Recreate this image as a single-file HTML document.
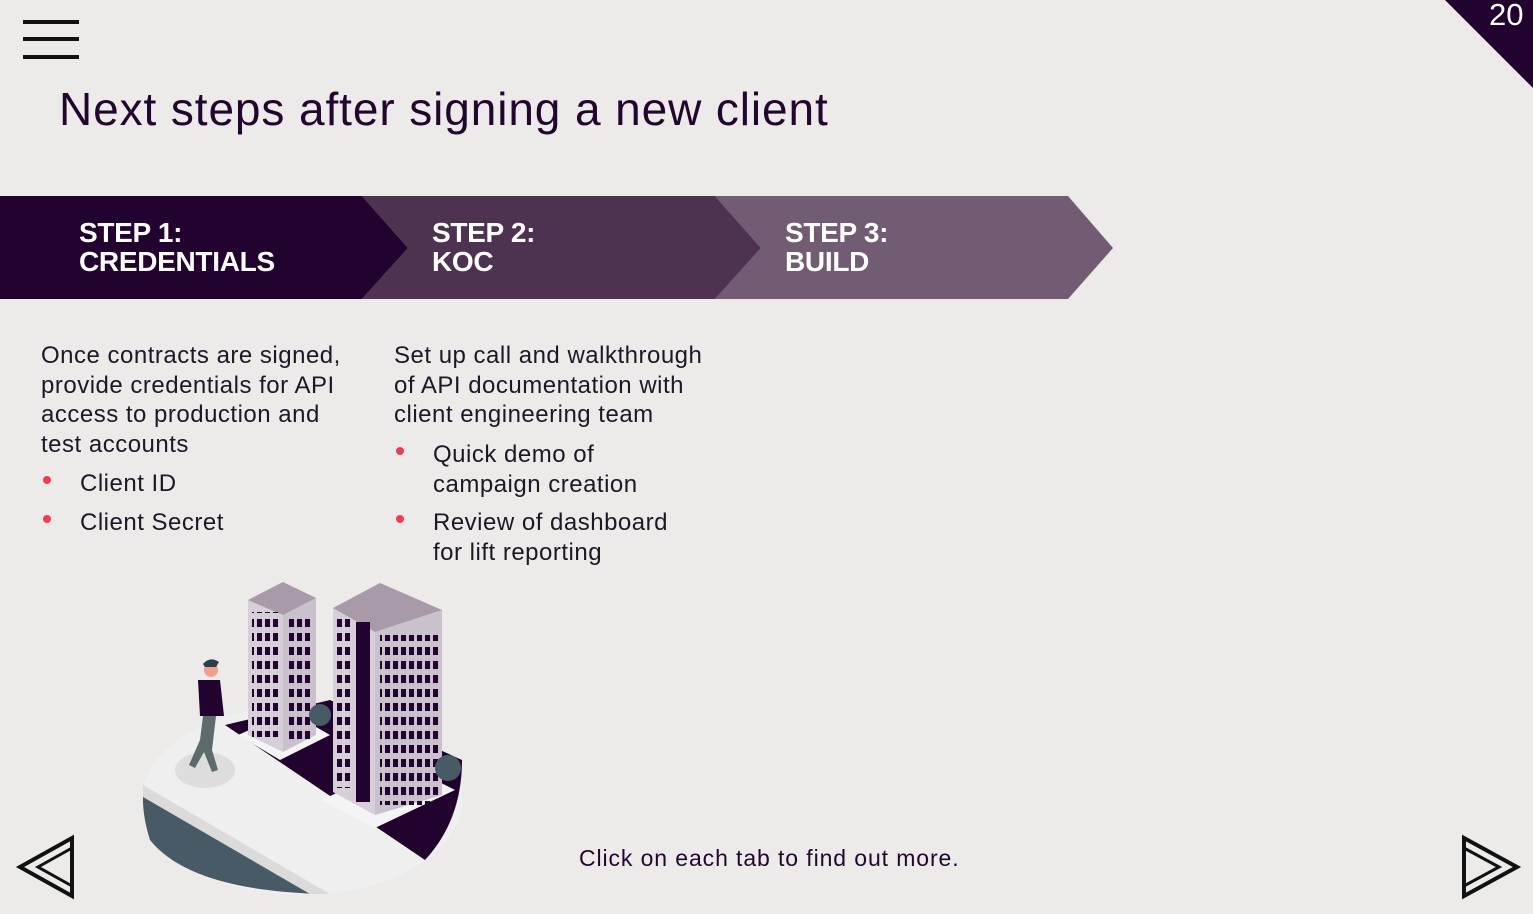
<!DOCTYPE html>
<html><head><meta charset="utf-8"><style>
body{margin:0;width:1533px;height:914px;background:#ecebe9;overflow:hidden;position:relative;font-family:"Liberation Sans",sans-serif;}
.a{position:absolute;}
.menu div{position:absolute;left:23px;width:56px;height:4px;background:#111;}
.title{left:59px;top:82px;font-size:46px;color:#22062f;white-space:nowrap;letter-spacing:0.9px;}
.step{color:#fff;font-weight:bold;font-size:28px;line-height:29px;letter-spacing:-0.3px;}
.body{font-size:24px;line-height:29.5px;color:#1d1726;letter-spacing:0.5px;}
.dot{position:absolute;width:8px;height:8px;border-radius:50%;background:#f03c50;}
</style></head><body>
<div class="menu"><div style="top:20px"></div><div style="top:37px"></div><div style="top:55px"></div></div>
<svg class="a" style="left:0;top:0" width="1533" height="914">
<defs>
<pattern id="w1" width="8" height="14" patternUnits="userSpaceOnUse"><rect x="1" y="3" width="5" height="8" fill="#22022e"/></pattern>
</defs>
<polygon points="1445,0 1533,0 1533,88" fill="#22022e"/>
<polygon points="715,196 1068,196 1113,248 1068,299 715,299 761,248" fill="#715c73"/>
<polygon points="362,196 715,196 761,248 715,299 362,299 408,248" fill="#4d3350"/>
<polygon points="0,196 362,196 408,248 362,299 0,299" fill="#22022e"/>
<polygon points="20,867 72,838 72,896" fill="none" stroke="#111" stroke-width="4"/>
<polygon points="38,867 72,848 72,886" fill="none" stroke="#111" stroke-width="3"/>
<polygon points="1517,867 1464,838 1464,896" fill="none" stroke="#111" stroke-width="4"/>
<polygon points="1499,867 1464,848 1464,886" fill="none" stroke="#111" stroke-width="3"/>
<!-- illustration -->
<ellipse cx="302" cy="800" rx="160" ry="95" fill="#f0efef"/>
<path d="M143,793 L320,894 Q190,890 150,840 Q142,815 143,793Z" fill="#475a65"/>
<path d="M225,725 L330,700 L462,760 Q462,820 425,860 Z" fill="#22022e"/>
<path d="M143,785 L330,894 L310,894 L143,797Z" fill="#dcdbdb"/>
<ellipse cx="205" cy="770" rx="30" ry="18" fill="#dedddd"/>
<polygon points="238,735 280,760 330,735 290,712" fill="#f5f4f5"/>
<polygon points="248,600 283,615 283,752 248,735" fill="#d6cfd8"/>
<polygon points="283,615 316,598 316,735 283,752" fill="#c9c1cb"/>
<polygon points="248,600 283,582 316,598 283,615" fill="#a99aa9"/>
<rect x="252" y="612" width="28" height="125" fill="url(#w1)"/>
<rect x="287" y="615" width="26" height="125" fill="url(#w1)"/>
<polygon points="322,800 375,828 455,790 400,762" fill="#f5f4f5"/>
<polygon points="333,608 375,632 375,815 333,792" fill="#d6cfd8"/>
<polygon points="375,632 442,610 442,795 375,815" fill="#c9c1cb"/>
<polygon points="333,608 380,583 442,610 375,632" fill="#a99aa9"/>
<rect x="337" y="618" width="14" height="170" fill="url(#w1)"/>
<rect x="356" y="622" width="14" height="180" fill="#22022e"/>
<rect x="380" y="635" width="58" height="170" fill="url(#w1)"/>
<circle cx="320" cy="715" r="11" fill="#475a65"/>
<circle cx="448" cy="768" r="13" fill="#475a65"/>
<circle cx="211" cy="670" r="7" fill="#f0a090"/>
<path d="M203,664 Q210,656 219,662 L216,667 L205,667Z" fill="#2d3e48"/>
<path d="M198,680 L220,680 L224,716 L200,716Z" fill="#22022e"/>
<path d="M203,716 L216,716 L212,750 L218,770 L212,772 L204,752 L195,768 L189,765 L200,740Z" fill="#5d6b6d"/>
</svg>
<div class="a" style="left:1489px;top:-3px;color:#fff;font-size:31px;">20</div>
<div class="a title">Next steps after signing a new client</div>
<div class="a step" style="left:79px;top:218px">STEP 1:<br>CREDENTIALS</div>
<div class="a step" style="left:432px;top:218px">STEP 2:<br>KOC</div>
<div class="a step" style="left:785px;top:218px">STEP 3:<br>BUILD</div>
<div class="a body" style="left:41px;top:341px;width:315px">Once contracts are signed, provide credentials for API access to production and test accounts</div>
<div class="dot" style="left:43px;top:476px"></div><div class="a body" style="left:80px;top:469px">Client ID</div>
<div class="dot" style="left:43px;top:515px"></div><div class="a body" style="left:80px;top:508px">Client Secret</div>
<div class="a body" style="left:394px;top:341px;width:320px">Set up call and walkthrough of API documentation with client engineering team</div>
<div class="dot" style="left:396px;top:447px"></div><div class="a body" style="left:433px;top:440px">Quick demo of<br>campaign creation</div>
<div class="dot" style="left:396px;top:515px"></div><div class="a body" style="left:433px;top:508px">Review of dashboard<br>for lift reporting</div>
<div class="a" style="left:579px;top:845px;font-size:23px;color:#22062f;letter-spacing:0.9px;">Click on each tab to find out more.</div>
</body></html>
